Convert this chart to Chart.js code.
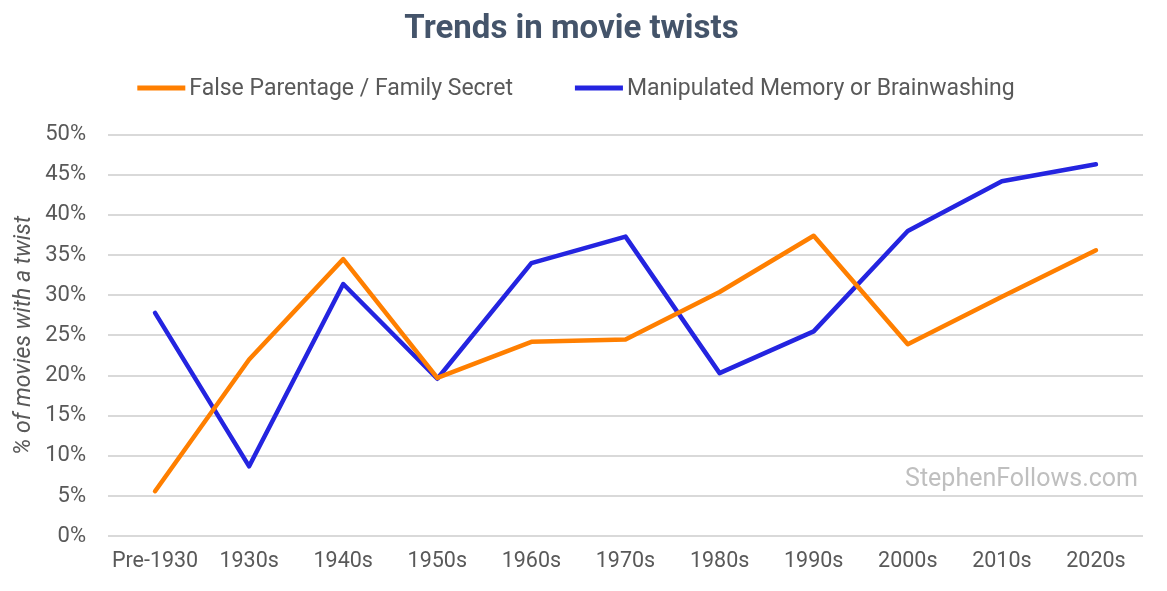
<!DOCTYPE html>
<html>
<head>
<meta charset="utf-8">
<script src="https://cdn.jsdelivr.net/npm/chart.js@4.4.1/dist/chart.umd.min.js"></script>
<style>
  html, body { margin: 0; padding: 0; background: #ffffff; }
  #wrap { width: 1167px; height: 591px; position: relative; }
</style>
</head>
<body>
<div id="wrap"><canvas id="c" width="1167" height="591"></canvas></div>
<script>
const categories = ["Pre-1930", "1930s", "1940s", "1950s", "1960s", "1970s", "1980s", "1990s", "2000s", "2010s", "2020s"];
const falseParentage = [5.6, 22.0, 34.5, 19.7, 24.2, 24.5, 30.4, 37.4, 23.9, 29.8, 35.6];
const manipulatedMemory = [27.8, 8.7, 31.4, 19.6, 34.0, 37.3, 20.3, 25.5, 38.0, 44.2, 46.3];
const seriesNames = ["False Parentage / Family Secret", "Manipulated Memory or Brainwashing"];
const seriesColors = ["#FF7F00", "#2424E0"];
const chartTitle = "Trends in movie twists";
const yTitle = "% of movies with a twist";
const watermark = "StephenFollows.com";

const FONT = "Roboto, 'Noto Sans', Arial, sans-serif";

const customLegend = {
  id: "customLegend",
  afterDraw(chart) {
    const ctx = chart.ctx;
    ctx.save();
    ctx.font = "23px " + FONT;
    ctx.textBaseline = "middle";
    ctx.textAlign = "left";
    const boxW = 48, boxH = 5, gapText = 4, gapItem = 62;
    const widths = seriesNames.map(n => ctx.measureText(n).width);
    let total = 0;
    widths.forEach((w, i) => { total += boxW + gapText + w + (i ? gapItem : 0); });
    let x = 576 - total / 2;
    const y = 89;
    seriesNames.forEach((n, i) => {
      ctx.fillStyle = seriesColors[i];
      ctx.fillRect(x, y - boxH / 2 - 1, boxW, boxH);
      ctx.fillStyle = "#595959";
      ctx.fillText(n, x + boxW + gapText, y);
      x += boxW + gapText + widths[i] + gapItem;
    });
    // watermark
    ctx.font = "25px " + FONT;
    ctx.fillStyle = "#BFBFBF";
    ctx.textAlign = "right";
    ctx.textBaseline = "alphabetic";
    ctx.fillText(watermark, chart.chartArea.right - 5, 486);
    ctx.restore();
  }
};

new Chart(document.getElementById("c"), {
  type: "line",
  data: {
    labels: categories,
    datasets: [
      { label: seriesNames[0], data: falseParentage, borderColor: seriesColors[0], backgroundColor: seriesColors[0],
        borderWidth: 4.5, pointRadius: 0, tension: 0, borderCapStyle: "round", borderJoinStyle: "round" },
      { label: seriesNames[1], data: manipulatedMemory, borderColor: seriesColors[1], backgroundColor: seriesColors[1],
        borderWidth: 4.5, pointRadius: 0, tension: 0, borderCapStyle: "round", borderJoinStyle: "round" }
    ]
  },
  options: {
    responsive: false,
    animation: false,
    layout: { padding: { left: 0, right: 24, top: 0, bottom: 3 } },
    plugins: {
      legend: { display: false },
      tooltip: { enabled: false },
      title: {
        display: true,
        text: chartTitle,
        color: "#44546A",
        font: { family: FONT, size: 33, weight: "bold" },
        padding: { top: 10, bottom: 85 }
      }
    },
    scales: {
      x: {
        offset: true,
        grid: { display: false, drawTicks: false },
        border: { display: false },
        ticks: { color: "#595959", font: { family: FONT, size: 21.5 }, padding: 13, maxRotation: 0, autoSkip: false }
      },
      y: {
        min: 0, max: 50,
        grid: { color: "#D9D9D9", lineWidth: 2, drawTicks: false },
        border: { display: false },
        ticks: { stepSize: 5, color: "#595959", font: { family: FONT, size: 22 }, padding: 22,
                 callback: v => v + "%" },
        title: { display: true, text: yTitle, color: "#595959",
                 font: { family: FONT, size: 23, style: "italic" }, padding: { top: 10, bottom: 6 } },
        afterFit: s => { s.width = 108; }
      }
    }
  },
  plugins: [customLegend]
});
</script>
</body>
</html>
